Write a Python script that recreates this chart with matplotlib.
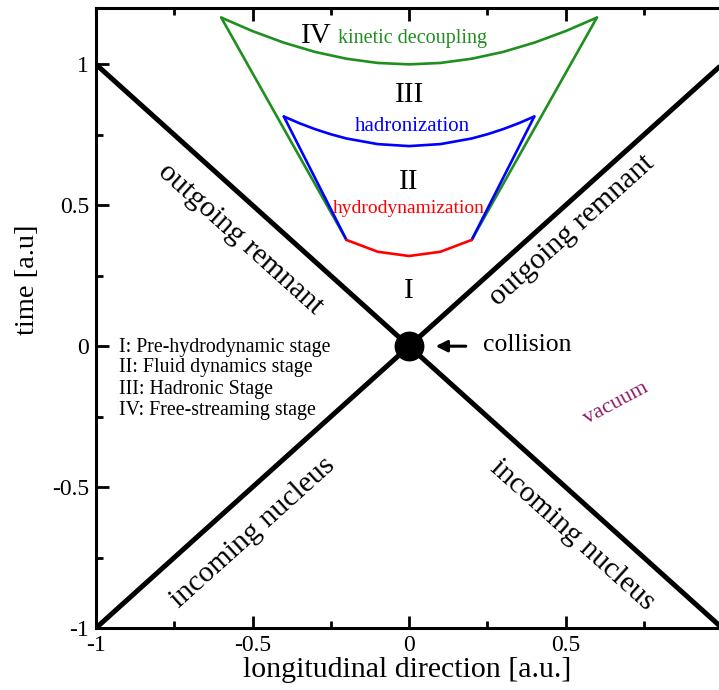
import matplotlib
matplotlib.use("Agg")
import matplotlib.pyplot as plt
from matplotlib.ticker import MultipleLocator

plt.rcParams['font.family'] = ['Liberation Serif', 'DejaVu Serif']

# light-cone lines
cone_x = [-1.0, 1.0]
cone_up = [-1.0, 1.0]
cone_down = [1.0, -1.0]

# freeze-out type surfaces (z, t)
green_z = [-0.6, -0.5, -0.4, -0.3, -0.2, -0.1, 0.0, 0.1, 0.2, 0.3, 0.4, 0.5, 0.6]
green_t = [1.166, 1.118, 1.077, 1.044, 1.020, 1.005, 1.0,
           1.005, 1.020, 1.044, 1.077, 1.118, 1.166]
green_side_z = [-0.6, -0.2]
green_side_t = [1.166, 0.377]

blue_z = [-0.4, -0.35, -0.3, -0.25, -0.2, -0.1, 0.0, 0.1, 0.2, 0.25, 0.3, 0.35, 0.4]
blue_t = [0.815, 0.791, 0.770, 0.752, 0.737, 0.717, 0.710,
          0.717, 0.737, 0.752, 0.770, 0.791, 0.815]
blue_side_z = [-0.4, -0.2]
blue_side_t = [0.815, 0.377]

red_z = [-0.2, -0.1, 0.0, 0.1, 0.2]
red_t = [0.377, 0.335, 0.320, 0.335, 0.377]

stage_lines = ["I: Pre-hydrodynamic stage",
               "II: Fluid dynamics stage",
               "III: Hadronic Stage",
               "IV: Free-streaming stage"]
stage_y = [-0.004, -0.077, -0.153, -0.228]

GREEN = '#1f8f1f'
BLUE = '#0000ff'
RED = '#ff0000'
PURPLE = '#8b1c62'

fig = plt.figure(figsize=(7.19, 6.90), dpi=100)
ax = fig.add_axes([96/719, 62/690, 623/719, 620/690])
ax.set_xlim(-1.0, 0.99)
ax.set_ylim(-1.0, 1.2)

ax.plot(cone_x, cone_up, color='black', lw=3.6, solid_capstyle='butt', zorder=3)
ax.plot(cone_x, cone_down, color='black', lw=3.6, solid_capstyle='butt', zorder=3)

ckw = dict(lw=1.9, solid_joinstyle='round', solid_capstyle='round')
for s in (1, -1):
    ax.plot([s*z for z in green_side_z], green_side_t, color=GREEN, zorder=2, **ckw)
ax.plot(green_z, green_t, color=GREEN, zorder=2, **ckw)
for s in (1, -1):
    ax.plot([s*z for z in blue_side_z], blue_side_t, color=BLUE, zorder=2.5, **ckw)
ax.plot(blue_z, blue_t, color=BLUE, zorder=2.5, **ckw)
ax.plot(red_z, red_t, color=RED, zorder=2.5, **ckw)

ax.scatter([0.0], [0.0], s=420, color='black', zorder=4)
ax.annotate('', xy=(0.076, 0.0), xytext=(0.19, 0.0),
            arrowprops=dict(arrowstyle='-|>', color='black', lw=2.2,
                            mutation_scale=17))
ax.text(0.235, 0.005, 'collision', fontsize=18.5, ha='left', va='center')

# region labels
ax.text(-0.295, 1.10, 'IV', fontsize=21, ha='center', va='center')
ax.text(0.01, 1.09, 'kinetic decoupling', fontsize=14.5, color=GREEN, ha='center', va='center')
ax.text(0.0, 0.893, 'III', fontsize=21, ha='center', va='center')
ax.text(0.01, 0.78, 'hadronization', fontsize=15, color=BLUE, ha='center', va='center')
ax.text(0.0, 0.584, 'II', fontsize=21, ha='center', va='center')
ax.text(0.0, 0.49, 'hydrodynamization', fontsize=14, color=RED, ha='center', va='center')
ax.text(0.0, 0.196, 'I', fontsize=21, ha='center', va='center')

# diagonal labels
kw = dict(fontsize=21.5, ha='center', va='center', rotation_mode='anchor',
          transform_rotates_text=True)
ax.text(-0.54, 0.38, 'outgoing remnant', rotation=-45, **kw)
ax.text(0.52, 0.41, 'outgoing remnant', rotation=45, **kw)
ax.text(-0.50, -0.66, 'incoming nucleus', rotation=45, **kw)
ax.text(0.52, -0.67, 'incoming nucleus', rotation=-45, **kw)

ax.text(0.66, -0.205, 'vacuum', fontsize=16, color=PURPLE, rotation=28,
        ha='center', va='center')

for label, yy in zip(stage_lines, stage_y):
    ax.text(-0.925, yy, label, fontsize=14.3, ha='left', va='center')

# axes styling
ax.spines['right'].set_visible(False)
for side in ('left', 'bottom', 'top'):
    ax.spines[side].set_linewidth(2.2)
ax.xaxis.set_major_locator(MultipleLocator(0.5))
ax.xaxis.set_minor_locator(MultipleLocator(0.25))
ax.yaxis.set_major_locator(MultipleLocator(0.5))
ax.yaxis.set_minor_locator(MultipleLocator(0.25))
ax.tick_params(which='both', direction='in', top=True, right=False, width=2.0)
ax.tick_params(which='major', length=9, labelsize=17, pad=5)
ax.tick_params(which='minor', length=5)
ax.set_xticks([-1, -0.5, 0, 0.5])
ax.set_xticklabels(['-1', '-0.5', '0', '0.5'])
ax.set_yticks([-1, -0.5, 0, 0.5, 1])
ax.set_yticklabels(['-1', '-0.5', '0', '0.5', '1'])

ax.set_xlabel('longitudinal direction [a.u.]', fontsize=21.5, labelpad=1)
ax.set_ylabel('time [a.u]', fontsize=20.5)
ax.yaxis.set_label_coords(-0.09, 0.561)

fig.savefig('out.png', dpi=100)
